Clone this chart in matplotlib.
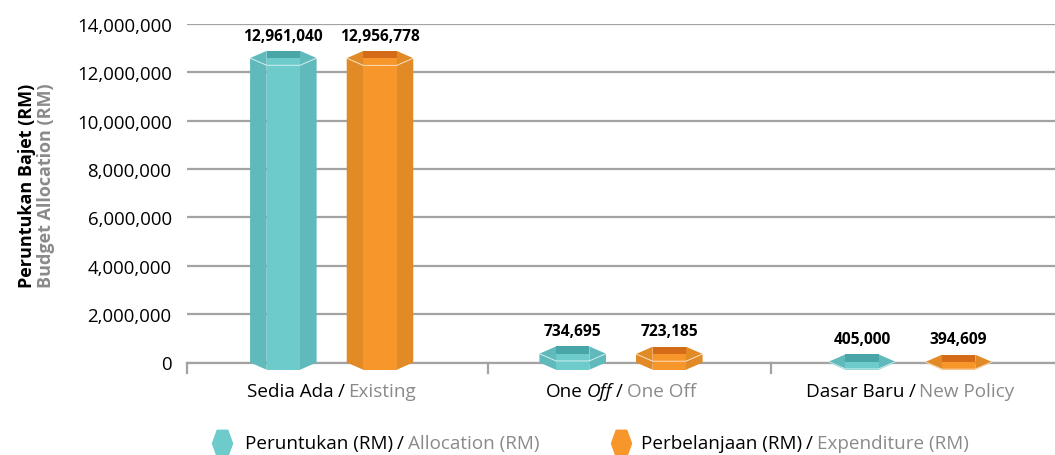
import numpy as np
import matplotlib
matplotlib.use('Agg')
import matplotlib.pyplot as plt
from matplotlib.patches import Polygon
from matplotlib.lines import Line2D
from matplotlib.transforms import IdentityTransform
from matplotlib.ticker import FuncFormatter

plt.rcParams['font.family'] = ['Open Sans', 'DejaVu Sans']

# data
cat_ms = ['Sedia Ada', 'One Off', 'Dasar Baru']
cat_en = ['Existing', 'One Off', 'New Policy']
allocation = [12961040, 734695, 405000]
expenditure = [12956778, 723185, 394609]

teal = {'front': '#6dcbcc', 'side': '#60b9bb', 'dark': '#48a5a8'}
orange = {'front': '#f7962b', 'side': '#e18a26', 'dark': '#d36b19'}
GRAY_TXT = '#8a8a8a'
FS = 13.6

W, H = 1055, 456
fig = plt.figure(figsize=(W / 100, H / 100), dpi=100)
ax = fig.add_axes([187 / W, 1 - 363.5 / H, 1 - 187 / W, (363.5 - 25) / H])
ax.set_xlim(-0.5, 2.5)
ax.set_ylim(0, 14e6)

ax.set_yticks(np.arange(0, 14e6 + 1, 2e6))
ax.yaxis.set_major_formatter(FuncFormatter(lambda v, p: f'{int(v):,}'))
ax.tick_params(axis='y', length=0, pad=11, labelsize=13.4)
ax.set_xticks([])
ax.grid(axis='y', color='#a3a3a3', lw=1.6)
ax.set_axisbelow(True)
for s in ['left', 'right', 'top']:
    ax.spines[s].set_visible(False)
ax.spines['bottom'].set_color('#a3a3a3')
ax.spines['bottom'].set_linewidth(1.6)
for xb in [-0.5, 0.54, 1.52]:
    ax.plot([xb, xb], [0, -0.45e6], color='#a3a3a3', lw=1.6, clip_on=False)

bw = 0.23
off = 0.167
d = 0.3e6


def prism(cx, v, col):
    top = v - d - 0.07e6
    bot = 0
    l, ml, mr, r = cx - bw / 2, cx - bw / 4, cx + bw / 4, cx + bw / 2
    faces = [
        ([(l, top), (ml, top - d), (ml, bot - d), (l, bot)], col['side']),
        ([(mr, top - d), (r, top), (r, bot), (mr, bot - d)], col['side']),
        ([(ml, top - d), (mr, top - d), (mr, bot - d), (ml, bot - d)], col['front']),
        ([(l, top), (ml, top + d), (ml, top - d)], col['side']),
        ([(r, top), (mr, top + d), (mr, top - d)], col['side']),
        ([(ml, top), (ml, top + d), (mr, top + d), (mr, top)], col['dark']),
        ([(ml, top), (mr, top), (mr, top - d), (ml, top - d)], col['front']),
    ]
    for pts, c in faces:
        ax.add_patch(Polygon(pts, closed=True, fc=c, ec='none', clip_on=False, zorder=3))
    ax.plot([l, ml, mr, r], [top, top - d, top - d, top], color='white', lw=0.8,
            alpha=0.6, clip_on=False, zorder=4)
    ax.annotate(f'{v:,}', (cx, v), xytext=(0, 4), textcoords='offset points',
                ha='center', va='bottom', fontsize=11.2, fontweight='bold', zorder=5)


for i in range(len(cat_ms)):
    prism(i - off, allocation[i], teal)
    prism(i + off, expenditure[i], orange)


def seg_text(x, y, segs, size):
    # segs: list of (text, color, style); centred at pixel x
    fig.canvas.draw()
    r = fig.canvas.get_renderer()
    gap = size * 0.3
    ts = []
    for s, c, st in segs:
        t = fig.text(0, y, s, color=c, fontsize=size, style=st,
                     transform=IdentityTransform(), va='center', ha='left')
        ts.append(t)
    widths = [t.get_window_extent(r).width for t in ts]
    total = sum(widths) + gap * (len(ts) - 1)
    cur = x - total / 2
    for t, w in zip(ts, widths):
        t.set_x(cur)
        cur += w + gap


lbl_segs = [
    [(cat_ms[0], 'black', 'normal'), ('/', 'black', 'normal'), (cat_en[0], GRAY_TXT, 'normal')],
    [('One', 'black', 'normal'), ('Off', 'black', 'italic'), ('/', 'black', 'normal'), (cat_en[1], GRAY_TXT, 'normal')],
    [(cat_ms[2], 'black', 'normal'), ('/', 'black', 'normal'), (cat_en[2], GRAY_TXT, 'normal')],
]
for i, segs in enumerate(lbl_segs):
    px = ax.transData.transform((i, 0))[0]
    seg_text(px, H - 392, segs, FS)

# y label (two lines)
fig.text(27 / W, 1 - 186 / H, 'Peruntukan Bajet (RM)', rotation=90, ha='center', va='center',
         fontsize=13, fontweight='bold', color='black')
fig.text(46 / W, 1 - 186 / H, 'Budget Allocation (RM)', rotation=90, ha='center', va='center',
         fontsize=13, fontweight='bold', color=GRAY_TXT)

# legend
hexm = [(-0.38, 0), (-0.2, 0.5), (0.2, 0.5), (0.38, 0), (0.2, -0.5), (-0.2, -0.5), (-0.38, 0)]
for mx, col in [(222, teal['front']), (621, orange['front'])]:
    fig.add_artist(Line2D([mx / W], [1 - 444 / H], marker=hexm, markersize=19,
                          color=col, ls='none'))
fig.canvas.draw()
r = fig.canvas.get_renderer()
for x0, segs in [(245, [('Peruntukan (RM)', 'black'), ('/', 'black'), ('Allocation (RM)', GRAY_TXT)]),
                 (641, [('Perbelanjaan (RM)', 'black'), ('/', 'black'), ('Expenditure (RM)', GRAY_TXT)])]:
    cur = x0
    for s, c in segs:
        t = fig.text(cur, H - 444, s, color=c, fontsize=FS, transform=IdentityTransform(),
                     va='center', ha='left')
        cur += t.get_window_extent(r).width + FS * 0.3

fig.savefig('out.png', dpi=100)
